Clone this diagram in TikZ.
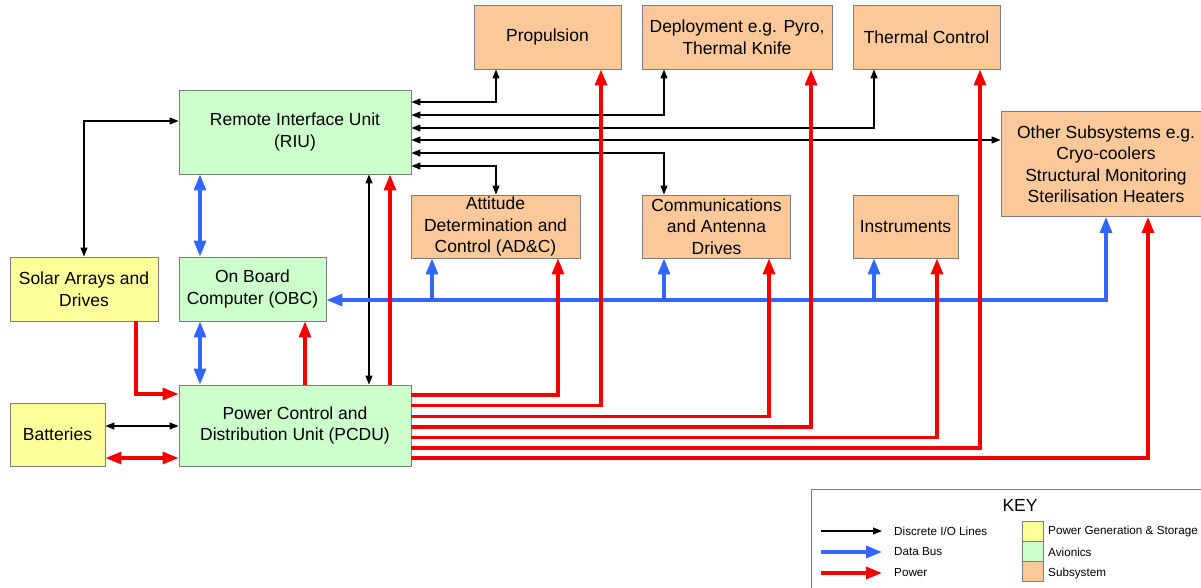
\documentclass[tikz,border=0pt]{standalone}
\usepackage{fontspec}
\setmainfont{Liberation Sans}
\usetikzlibrary{arrows.meta}
\definecolor{avgreen}{RGB}{204,255,204}
\definecolor{pgyellow}{RGB}{255,255,153}
\definecolor{subtan}{RGB}{251,201,153}
\definecolor{edgegray}{RGB}{125,125,125}
\definecolor{busblue}{RGB}{51,102,255}
\definecolor{pwrred}{RGB}{245,0,0}
\begin{document}
\begin{tikzpicture}[x=1pt, y=-1pt,
    unit/.style={draw=edgegray, line width=0.9pt, align=center, inner sep=0pt,
        font=\fontsize{17.5}{21.5}\selectfont},
    avio/.style={unit, fill=avgreen},
    pgen/.style={unit, fill=pgyellow},
    subsys/.style={unit, fill=subtan},
    io/.style={line width=1.1pt, >={Triangle[length=9pt,width=7pt]}},
    bus/.style={line width=3.2pt, draw=busblue, >={Triangle[length=16pt,width=12pt]}},
    pwr/.style={line width=3.2pt, draw=pwrred, >={Triangle[length=16pt,width=12pt]}},
    keytext/.style={anchor=west, inner sep=0pt, font=\fontsize{11.7}{14}\selectfont}]
    \useasboundingbox (0,0) rectangle (1201,587);

    % boxes
    \node[avio, minimum width=232pt, minimum height=84pt] (riu) at (295,132)
        {Remote Interface Unit\\(RIU)};
    \node[pgen, minimum width=148pt, minimum height=64pt] (solar) at (84,289)
        {Solar Arrays and\\Drives};
    \node[avio, minimum width=147pt, minimum height=64pt] (obc) at (252.5,289)
        {On Board\\Computer (OBC)};
    \node[avio, minimum width=232pt, minimum height=81pt] (pcdu) at (295,425.5)
        {Power Control and\\Distribution Unit (PCDU)};
    \node[pgen, minimum width=95pt, minimum height=63pt] (bat) at (57.5,434.5)
        {Batteries};
    \node[subsys, minimum width=147pt, minimum height=64pt] (prop) at (547.5,37)
        {Propulsion};
    \node[subsys, minimum width=190pt, minimum height=64pt] (depl) at (737,37)
        {Deployment e.g. Pyro,\\Thermal Knife};
    \node[subsys, minimum width=147pt, minimum height=64pt] (therm) at (926.5,37)
        {Thermal Control};
    \node[subsys, minimum width=210pt, minimum height=105pt] (other) at (1106,164)
        {Other Subsystems e.g.\\Cryo-coolers\\Structural Monitoring\\Sterilisation Heaters};
    \node[subsys, minimum width=169pt, minimum height=63pt] (adc) at (495.5,226.5)
        {Attitude\\Determination and\\Control (AD\&C)};
    \node[subsys, minimum width=148pt, minimum height=63pt] (comm) at (716.5,226.5)
        {Communications\\and Antenna\\Drives};
    \node[subsys, minimum width=105pt, minimum height=63pt] (inst) at (905.5,226.5)
        {Instruments};

    % discrete I/O lines
    \draw[io,<->] (riu.west |- 0,121) -| (solar.north -| 84,0);
    \draw[io,<->] (riu.east |- 0,102) -| (prop.south -| 496,0);
    \draw[io,<->] (riu.east |- 0,115) -| (depl.south -| 664,0);
    \draw[io,<->] (riu.east |- 0,128) -| (therm.south -| 874,0);
    \draw[io,<->] (riu.east |- 0,140) -- (other.west |- 0,140);
    \draw[io,<->] (riu.east |- 0,153) -| (comm.north -| 664,0);
    \draw[io,<->] (riu.east |- 0,166) -| (adc.north -| 496,0);
    \draw[io,<->] (riu.south -| 369,0) -- (pcdu.north -| 369,0);
    \draw[io,<->] (bat.east |- 0,426) -- (pcdu.west |- 0,426);

    % data bus
    \coordinate (tapadc) at (432,300);
    \coordinate (tapcomm) at (664,300);
    \coordinate (tapinst) at (874,300);
    \draw[bus,<->] (riu.south -| 200,0) -- (obc.north -| 200,0);
    \draw[bus,<->] (obc.south -| 200,0) -- (pcdu.north -| 200,0);
    \draw[bus,<->] (obc.east |- 0,300) -| (other.south -| 1106,0);
    \draw[bus,->] (tapadc) -- (adc.south -| tapadc);
    \draw[bus,->] (tapcomm) -- (comm.south -| tapcomm);
    \draw[bus,->] (tapinst) -- (inst.south -| tapinst);

    % power
    \draw[pwr,->] (solar.south -| 136,0) |- (pcdu.west |- 0,394);
    \draw[pwr,<->] (bat.east |- 0,458) -- (pcdu.west |- 0,458);
    \draw[pwr,->] (pcdu.north -| 305,0) -- (obc.south -| 305,0);
    \draw[pwr,->] (pcdu.north -| 390,0) -- (riu.south -| 390,0);
    \draw[pwr,->] (pcdu.east |- 0,395) -| (adc.south -| 558,0);
    \draw[pwr,->] (pcdu.east |- 0,405.5) -| (prop.south -| 601,0);
    \draw[pwr,->] (pcdu.east |- 0,416.5) -| (comm.south -| 769,0);
    \draw[pwr,->] (pcdu.east |- 0,427) -| (depl.south -| 811,0);
    \draw[pwr,->] (pcdu.east |- 0,437.5) -| (inst.south -| 937,0);
    \draw[pwr,->] (pcdu.east |- 0,448) -| (therm.south -| 980,0);
    \draw[pwr,->] (pcdu.east |- 0,458) -| (other.south -| 1148,0);

    % key
    \draw[draw=edgegray, line width=0.9pt] (811,489) rectangle (1240,600);
    \node[font=\fontsize{17.5}{20}\selectfont, inner sep=0pt] (keyhead) at (1020,505) {KEY};
    \node[keytext] (kio) at (894,531) {Discrete I/O Lines};
    \node[keytext] (kbus) at (894,552) {Data Bus};
    \node[keytext] (kpwr) at (894,573) {Power};
    \draw[io,->] ([xshift=-73pt]kio.west) -- ([xshift=-12pt]kio.west);
    \draw[bus,->] ([xshift=-73pt]kbus.west) -- ([xshift=-12pt]kbus.west);
    \draw[pwr,->] ([xshift=-73pt]kpwr.west) -- ([xshift=-12pt]kpwr.west);
    \node[pgen, minimum width=21pt, minimum height=20pt] (swpg) at (1032.5,531.5) {};
    \node[avio, minimum width=21pt, minimum height=20pt] (swav) at (1032.5,551.5) {};
    \node[subsys, minimum width=21pt, minimum height=20pt] (swsub) at (1032.5,571.5) {};
    \node[keytext] at (1048,531) {Power Generation \& Storage};
    \node[keytext] at (1048,552) {Avionics};
    \node[keytext] at (1048,573) {Subsystem};
\end{tikzpicture}
\end{document}
